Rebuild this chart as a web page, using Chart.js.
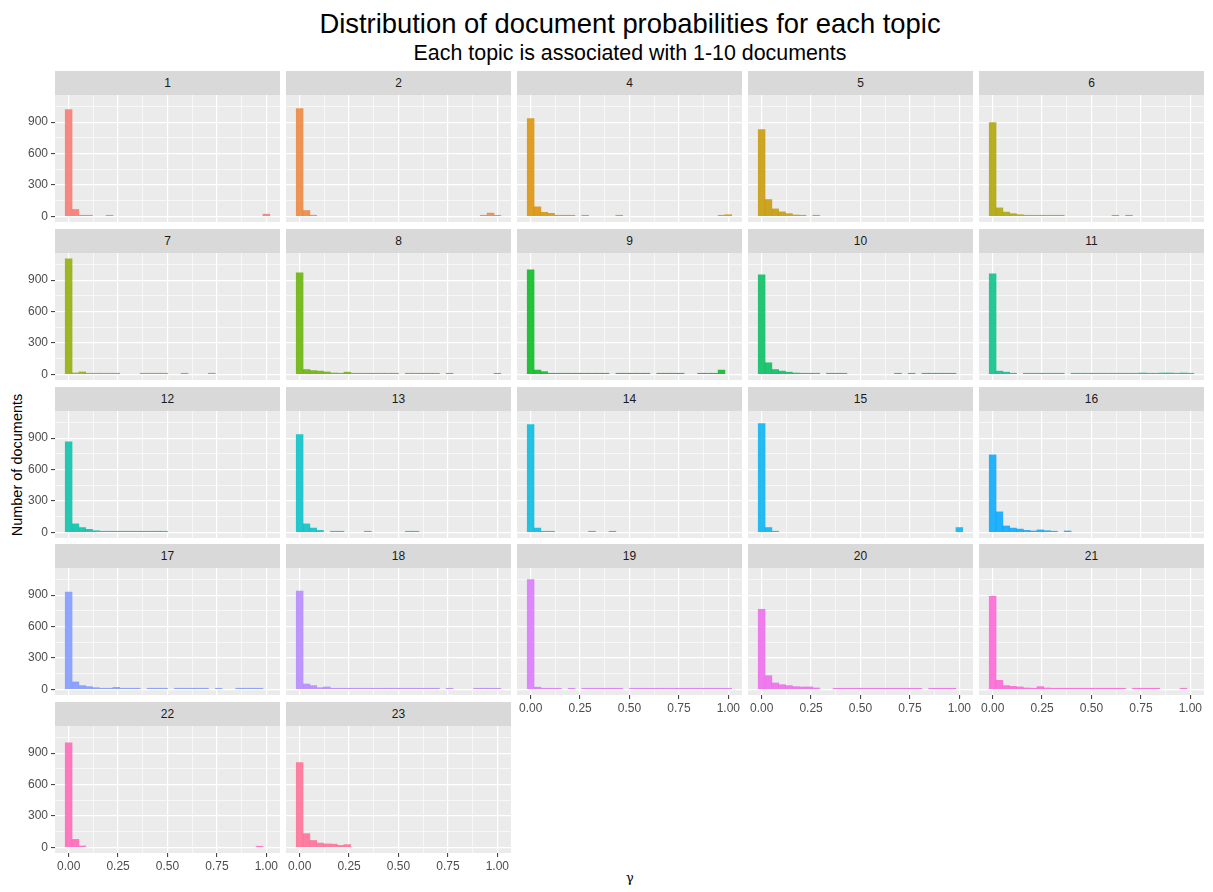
<!DOCTYPE html>
<html>
<head>
<meta charset="utf-8">
<script src="https://cdn.jsdelivr.net/npm/chart.js@4.4.1/dist/chart.umd.min.js"></script>
<style>
  body { margin: 0; background: #fff; font-family: "Liberation Sans", Arial, sans-serif; }
  #page { position: relative; width: 1213px; height: 892px; overflow: hidden; }
  .title { position: absolute; left: 0; width: 1260px; text-align: center; color: #000; white-space: nowrap; }
  .strip { position: absolute; background: #d9d9d9; color: #1a1a1a; font-size: 12px; text-align: center; line-height: 24px; height: 24px; }
  .panel { position: absolute; }
  #ytitle { position: absolute; left: 17px; top: 465px; width: 240px; margin-left: -120px; margin-top: -9px;
            text-align: center; font-size: 14.5px; line-height: 18px; transform: rotate(-90deg); white-space: nowrap; }
  #xtitle { position: absolute; left: 600px; top: 870px; width: 60px; text-align: center;
            font-family: "DejaVu Serif", serif; font-size: 13px; color: #000; }
</style>
</head>
<body>
<div id="page">
  <div class="title" style="top:8px;font-size:27.4px;">Distribution of document probabilities for each topic</div>
  <div class="title" style="top:41px;font-size:21.4px;">Each topic is associated with 1-10 documents</div>
  <div id="ytitle">Number of documents</div>
  <div id="xtitle">γ</div>
</div>
<script>
// histogram bin centres (gamma)
const binMids = [0.0000, 0.0345, 0.0690, 0.1034, 0.1379, 0.1724, 0.2069, 0.2414, 0.2759, 0.3103,
                 0.3448, 0.3793, 0.4138, 0.4483, 0.4828, 0.5172, 0.5517, 0.5862, 0.6207, 0.6552,
                 0.6897, 0.7241, 0.7586, 0.7931, 0.8276, 0.8621, 0.8966, 0.9310, 0.9655, 1.0000];

const topics = ['1', '2', '4', '5', '6', '7', '8', '9', '10', '11', '12',
                '13', '14', '15', '16', '17', '18', '19', '20', '21', '22', '23'];

// number of documents per bin, one array per topic
const t1  = [1020, 65, 8, 5, 0, 0, 3, 0, 0, 0,  0, 0, 0, 0, 0, 0, 0, 0, 0, 0,  0, 0, 0, 0, 0, 0, 0, 0, 0, 20];
const t2  = [1030, 55, 10, 0, 0, 0, 0, 0, 0, 0,  0, 0, 0, 0, 0, 0, 0, 0, 0, 0,  0, 0, 0, 0, 0, 0, 0, 6, 30, 8];
const t4  = [935, 90, 38, 28, 10, 4, 5, 0, 4, 0,  0, 0, 0, 4, 0, 0, 0, 0, 0, 0,  0, 0, 0, 0, 0, 0, 0, 0, 6, 15];
const t5  = [830, 160, 70, 42, 25, 12, 6, 0, 5, 0,  0, 0, 0, 0, 0, 0, 0, 0, 0, 0,  0, 0, 0, 0, 0, 0, 0, 0, 0, 0];
const t6  = [895, 80, 40, 25, 15, 8, 6, 5, 5, 5,  4, 0, 0, 0, 0, 0, 0, 0, 4, 0,  4, 0, 0, 0, 0, 0, 0, 0, 0, 0];
const t7  = [1105, 12, 22, 6, 6, 6, 6, 6, 0, 0,  0, 6, 6, 6, 6, 0, 0, 5, 0, 0,  0, 8, 0, 0, 0, 0, 0, 0, 0, 0];
const t8  = [970, 45, 35, 30, 22, 12, 10, 20, 5, 5,  5, 5, 5, 5, 5, 0, 5, 5, 5, 5,  5, 0, 5, 0, 0, 0, 0, 0, 0, 8];
const t9  = [1000, 40, 25, 5, 5, 5, 5, 5, 5, 5,  5, 5, 0, 5, 5, 5, 5, 5, 0, 5,  5, 5, 5, 0, 0, 5, 5, 5, 40, 0];
const t10 = [950, 110, 45, 30, 20, 12, 5, 5, 5, 0,  5, 5, 5, 0, 0, 0, 0, 0, 0, 0,  3, 0, 3, 0, 5, 5, 5, 5, 5, 0];
const t11 = [960, 30, 20, 10, 0, 5, 5, 5, 5, 5,  5, 0, 5, 5, 5, 5, 5, 5, 5, 5,  5, 5, 12, 5, 5, 12, 12, 5, 12, 5];
const t12 = [865, 80, 45, 28, 15, 8, 8, 8, 8, 8,  8, 8, 8, 8, 8, 0, 0, 0, 0, 0,  0, 0, 0, 0, 0, 0, 0, 0, 0, 0];
const t13 = [935, 80, 40, 18, 0, 5, 5, 0, 0, 0,  5, 0, 0, 0, 0, 0, 8, 8, 0, 0,  0, 0, 0, 0, 0, 0, 0, 0, 0, 0];
const t14 = [1030, 40, 8, 5, 0, 0, 0, 0, 0, 5,  0, 0, 5, 0, 0, 0, 0, 0, 0, 0,  0, 0, 0, 0, 0, 0, 0, 0, 0, 0];
const t15 = [1040, 45, 10, 0, 0, 0, 0, 0, 0, 0,  0, 0, 0, 0, 0, 0, 0, 0, 0, 0,  0, 0, 0, 0, 0, 0, 0, 0, 0, 45];
const t16 = [740, 195, 60, 40, 30, 18, 12, 22, 15, 5,  0, 12, 0, 0, 0, 0, 0, 0, 0, 0,  0, 0, 0, 0, 0, 0, 0, 0, 0, 0];
const t17 = [930, 70, 35, 25, 15, 6, 6, 18, 6, 6,  6, 0, 5, 5, 5, 0, 5, 5, 5, 5,  5, 0, 4, 0, 0, 5, 5, 5, 5, 0];
const t18 = [940, 50, 35, 15, 22, 5, 5, 5, 5, 5,  5, 5, 5, 5, 5, 5, 5, 5, 5, 5,  5, 0, 4, 0, 0, 0, 5, 5, 5, 5];
const t19 = [1050, 20, 8, 6, 6, 0, 4, 0, 4, 4,  4, 4, 4, 4, 0, 4, 4, 4, 4, 4,  4, 4, 4, 4, 4, 4, 4, 4, 4, 4];
const t20 = [765, 130, 60, 44, 35, 25, 22, 22, 12, 0,  0, 5, 5, 5, 5, 5, 5, 5, 5, 5,  5, 5, 5, 5, 0, 5, 5, 5, 5, 0];
const t21 = [890, 85, 35, 28, 22, 12, 8, 25, 12, 5,  5, 5, 5, 5, 5, 5, 5, 5, 5, 5,  0, 5, 5, 5, 5, 0, 0, 0, 4, 0];
const t22 = [1000, 75, 12, 0, 0, 0, 0, 0, 0, 0,  0, 0, 0, 0, 0, 0, 0, 0, 0, 0,  0, 0, 0, 0, 0, 0, 0, 0, 6, 0];
const t23 = [810, 130, 65, 40, 32, 30, 18, 25, 0, 0,  0, 0, 0, 0, 0, 0, 0, 0, 0, 0,  0, 0, 0, 0, 0, 0, 0, 0, 0, 0];

const counts = [t1, t2, t4, t5, t6, t7, t8, t9, t10, t11, t12,
                t13, t14, t15, t16, t17, t18, t19, t20, t21, t22, t23];

// axis breaks
const xMajor = [0, 0.25, 0.5, 0.75, 1];
const xLabels = ['0.00', '0.25', '0.50', '0.75', '1.00'];
const xMinor = [0.125, 0.375, 0.625, 0.875];
const yMajor = [0, 300, 600, 900];
const yLabels = ['0', '300', '600', '900'];
const yMinor = [150, 450, 750, 1050];

// layout
const colX = [55, 286, 517, 748, 979];
const rowTop = [71, 229, 387, 544, 702];
const panelW = 225, stripH = 24, plotH = 127;
const yAxisW = 55, xAxisH = 22;

// ggplot hue palette
function hcl(h, c, l) {
  const Xn = 95.047, Yn = 100, Zn = 108.883;
  const hr = h * Math.PI / 180;
  const U = c * Math.cos(hr), V = c * Math.sin(hr);
  const Y = l > 8 ? Yn * Math.pow((l + 16) / 116, 3) : Yn * l / 903.3;
  const t = Xn + 15 * Yn + 3 * Zn;
  const u = U / (13 * l) + 4 * Xn / t, v = V / (13 * l) + 9 * Yn / t;
  const X = 9 * Y * u / (4 * v);
  const Z = 3 * Y / v - X / 3 - 5 * Y;
  const lin = [
    (3.240479 * X - 1.537150 * Y - 0.498535 * Z) / 100,
    (-0.969256 * X + 1.875992 * Y + 0.041556 * Z) / 100,
    (0.055648 * X - 0.204043 * Y + 1.057311 * Z) / 100
  ];
  return lin.map(a => {
    const g = a <= 0.0031308 ? 12.92 * a : 1.055 * Math.pow(a, 1 / 2.4) - 0.055;
    return Math.round(Math.min(1, Math.max(0, g)) * 255);
  });
}

const bgPlugin = {
  id: 'panelBg',
  beforeDraw(chart) {
    const { ctx, chartArea: a } = chart;
    ctx.save();
    ctx.fillStyle = '#ebebeb';
    ctx.fillRect(a.left, a.top, a.right - a.left, a.bottom - a.top);
    ctx.restore();
  }
};

const page = document.getElementById('page');
const tickFont = { family: '"Liberation Sans", Arial, sans-serif', size: 12 };

topics.forEach((name, i) => {
  const r = Math.floor(i / 5), c = i % 5;
  const showY = c === 0;
  const showX = r === 4 || (r === 3 && c >= 2);

  const strip = document.createElement('div');
  strip.className = 'strip';
  strip.style.left = colX[c] + 'px';
  strip.style.top = rowTop[r] + 'px';
  strip.style.width = panelW + 'px';
  strip.textContent = name;
  page.appendChild(strip);

  const w = panelW + (showY ? yAxisW : 0);
  const h = plotH + (showX ? xAxisH : 0);
  const box = document.createElement('div');
  box.className = 'panel';
  box.style.left = (colX[c] - (showY ? yAxisW : 0)) + 'px';
  box.style.top = (rowTop[r] + stripH) + 'px';
  const canvas = document.createElement('canvas');
  canvas.width = w;
  canvas.height = h;
  box.appendChild(canvas);
  page.appendChild(box);

  const rgb = hcl(15 + 360 * i / topics.length, 100, 65);
  const fill = `rgba(${rgb[0]},${rgb[1]},${rgb[2]},0.85)`;

  const pts = binMids.map((x, k) => ({ x: x, y: counts[i][k] > 0 ? counts[i][k] : null }));

  const isMajorX = v => xMajor.some(m => Math.abs(m - v) < 1e-9);
  const isMajorY = v => yMajor.includes(v);

  new Chart(canvas, {
    type: 'bar',
    data: {
      datasets: [{
        data: pts,
        backgroundColor: fill,
        borderWidth: 0,
        barPercentage: 1,
        categoryPercentage: 1,
        minBarLength: 1
      }]
    },
    plugins: [bgPlugin],
    options: {
      responsive: false,
      animation: false,
      layout: { padding: 0 },
      plugins: { legend: { display: false }, tooltip: { enabled: false } },
      scales: {
        x: {
          type: 'linear',
          min: -0.069,
          max: 1.069,
          offset: false,
          afterBuildTicks: s => { s.ticks = xMajor.concat(xMinor).sort((a, b) => a - b).map(v => ({ value: v })); },
          afterFit: s => { s.height = showX ? xAxisH : 0; s.paddingLeft = s.paddingRight = s.paddingTop = s.paddingBottom = 0; },
          border: { display: false },
          grid: {
            offset: false,
            color: '#ffffff',
            lineWidth: ctx => isMajorX(ctx.tick.value) ? 1.2 : 0.6,
            drawTicks: showX,
            tickLength: 4,
            tickWidth: 1,
            tickColor: ctx => isMajorX(ctx.tick.value) ? '#333333' : 'rgba(0,0,0,0)'
          },
          ticks: {
            display: showX,
            padding: 2,
            color: '#4d4d4d',
            font: tickFont,
            maxRotation: 0,
            autoSkip: false,
            callback: v => { const j = xMajor.findIndex(m => Math.abs(m - v) < 1e-9); return j >= 0 ? xLabels[j] : ''; }
          }
        },
        y: {
          type: 'linear',
          min: -55,
          max: 1160,
          afterBuildTicks: s => { s.ticks = yMajor.concat(yMinor).sort((a, b) => a - b).map(v => ({ value: v })); },
          afterFit: s => { s.width = showY ? yAxisW : 0; s.paddingLeft = s.paddingRight = s.paddingTop = s.paddingBottom = 0; },
          border: { display: false },
          grid: {
            color: '#ffffff',
            lineWidth: ctx => isMajorY(ctx.tick.value) ? 1.2 : 0.6,
            drawTicks: showY,
            tickLength: 4,
            tickWidth: 1,
            tickColor: ctx => isMajorY(ctx.tick.value) ? '#333333' : 'rgba(0,0,0,0)'
          },
          ticks: {
            display: showY,
            padding: 3,
            color: '#4d4d4d',
            font: tickFont,
            autoSkip: false,
            callback: v => { const j = yMajor.indexOf(v); return j >= 0 ? yLabels[j] : ''; }
          }
        }
      }
    }
  });
});
</script>
</body>
</html>
